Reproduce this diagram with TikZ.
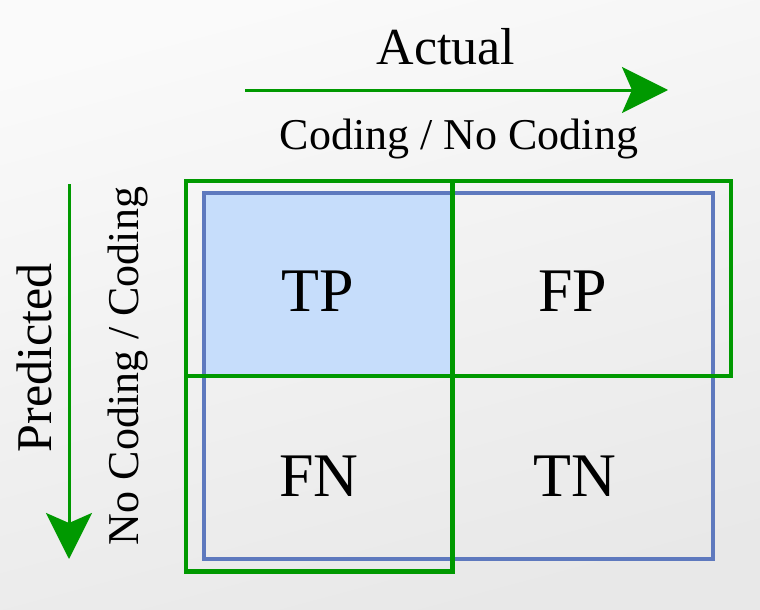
\documentclass[tikz,border=0pt]{standalone}
\usepackage{fontspec}
\setmainfont{Liberation Serif}
\usetikzlibrary{arrows.meta,positioning}

\definecolor{cgreen}{RGB}{0,153,0}
\definecolor{cblue}{RGB}{94,121,190}
\definecolor{cfill}{RGB}{198,221,251}

\begin{document}
\begin{tikzpicture}[x=1pt,y=-1pt,
	cell/.style={anchor=base,font=\fontsize{62}{70}\selectfont},
	axis/.style={cgreen,line width=3pt,-{Stealth[length=46pt,width=46pt,inset=10pt]}},
	box/.style={cgreen,line width=4.5pt}]
		\useasboundingbox (0,0) rectangle (760,610);
		\shade[top color=black!2,bottom color=black!9,shading angle=15] (0,0) rectangle (760,610);
		
		% actual axis
		\node [anchor=base,font=\fontsize{52}{60}\selectfont] (actual) at (446,64) {Actual};
		\node [anchor=base,font=\fontsize{44}{50}\selectfont] (actcls) at (459,149) {Coding / No Coding};
		\coordinate (a0) at (245,90);
		\coordinate (a1) at (668,90);
		\draw [axis] (a0) -- (a1);
		
		% predicted axis
		\node [anchor=base,rotate=90,font=\fontsize{50}{58}\selectfont] (pred) at (51,358) {Predicted};
		\node [anchor=base,rotate=90,font=\fontsize{44}{50}\selectfont] (predcls) at (138,366) {No Coding / Coding};
		\coordinate (p0) at (69,184);
		\coordinate (p1) at (69,559);
		\draw [axis] (p0) -- (p1);
		
		% matrix
		\fill [cfill] (204,193) rectangle (452.5,376);
		\draw [cblue,line width=3.5pt] (204,193) rectangle (713,559);
		\draw [box] (186,181) rectangle (731,376);
		\draw [box] (186,181) rectangle (452.5,571.5);
		
		\node [cell] (tp) at (318,311) {TP};
		\node [cell] (fp) at (573,311) {FP};
		\node [cell] (fn) at (319,496) {FN};
		\node [cell] (tn) at (575,496) {TN};
\end{tikzpicture}
\end{document}
